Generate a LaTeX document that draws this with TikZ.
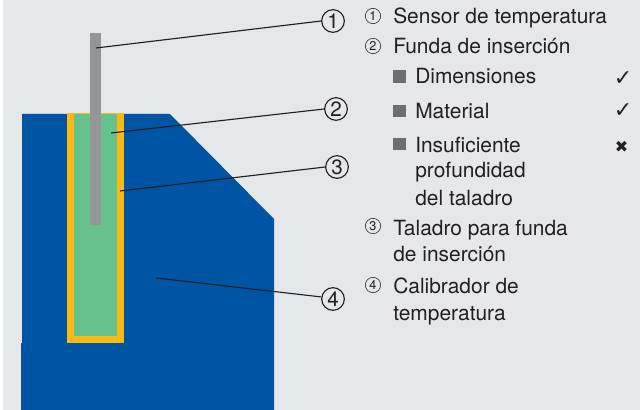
\documentclass[tikz,border=0pt]{standalone}
\usepackage{fontspec}
\setmainfont{TeX Gyre Heros}
\newfontfamily\djfont{DejaVu Sans}
\definecolor{bg}{HTML}{E6E7E9}
\definecolor{blockblue}{HTML}{0054A4}
\definecolor{sleeve}{HTML}{66C18C}
\definecolor{bore}{HTML}{FDB913}
\definecolor{sensor}{HTML}{939598}
\definecolor{ink}{HTML}{231F20}
\definecolor{sq}{HTML}{6D6E71}
\tikzset{
 x=0.75pt,y=-0.75pt,
 lead/.style={draw=ink,line width=0.85pt},
 bignum/.style={circle,draw=ink,line width=0.85pt,minimum size=17pt,font=\fontsize{15.5}{16}\selectfont,text=ink,inner sep=0pt,anchor=center},
 smallnum/.style={circle,draw=ink,line width=0.45pt,minimum size=11.5pt,font=\fontsize{9.5}{10}\selectfont,text=ink,inner sep=0pt,anchor=center},
 txt/.style={font=\fontsize{15.7}{19}\selectfont,text=ink,inner sep=0pt,anchor=base west,align=left},
 mark sym/.style={font=\djfont\fontsize{16.5}{17}\selectfont,text=ink,inner sep=0pt,anchor=center},
 bul/.style={fill=sq,draw=none,minimum size=9.6pt,inner sep=0pt,anchor=center},
}
\begin{document}
\begin{tikzpicture}
\useasboundingbox (0,0) rectangle (640,410);
\fill[white] (0,0) rectangle (640,410);
\fill[bg] (3,0) rectangle (640,410);
% block
\fill[blockblue] (22,114) -- (170,114) -- (274,219) -- (274,410) -- (21,410) -- (21,343) -- (22,343) -- cycle;
% bore and sleeve
\fill[bore] (67,113) rectangle (124,343);
\fill[sleeve] (74,114) rectangle (117,336);
% sensor
\fill[sensor] (90,33) rectangle (101,225);
% labels
\node[bignum] (n1) at (333,21) {1};
\node[bignum] (n2) at (336,109) {2};
\node[bignum] (n3) at (337,167) {3};
\node[bignum] (n4) at (333,299) {4};
\coordinate (p1) at (96,48);
\coordinate (p2) at (111,133);
\coordinate (p3) at (120,191);
\coordinate (p4) at (156,278);
\draw[lead] (p1) -- (n1.west);
\draw[lead] (p2) -- (n2.west);
\draw[lead] (p3) -- (n3.west);
\draw[lead] (p4) -- (n4.170);
% legend
\node[smallnum] (l1) at (373,16) {1};
\node[txt] (t1) at (393,24) {Sensor de temperatura};
\node[smallnum] (l2) at (373,46) {2};
\node[txt] (t2) at (393,54) {Funda de inserción};
\node[bul] (b1) at (399.5,76.5) {};
\node[txt] (t3) at (415,84) {Dimensiones};
\node[mark sym] (m1) at (623,79) {✓};
\node[bul] (b2) at (399.5,111) {};
\node[txt] (t4) at (415,118) {Material};
\node[mark sym] (m2) at (623,111) {✓};
\node[bul] (b3) at (399.5,144) {};
\node[txt] (t5) at (415,152) {Insuficiente};
\node[txt] (t6) at (415,178) {profundidad};
\node[txt] (t7) at (415,205) {del taladro};
\node[mark sym,font=\djfont\fontsize{12}{12}\selectfont] (m3) at (621.5,146.5) {✖};
\node[smallnum] (l3) at (373,226) {3};
\node[txt] (t8) at (393,235) {Taladro para funda};
\node[txt] (t9) at (393,262) {de inserción};
\node[smallnum] (l4) at (373,285) {4};
\node[txt] (t10) at (393,293) {Calibrador de};
\node[txt] (t11) at (393,320) {temperatura};
\end{tikzpicture}
\end{document}
